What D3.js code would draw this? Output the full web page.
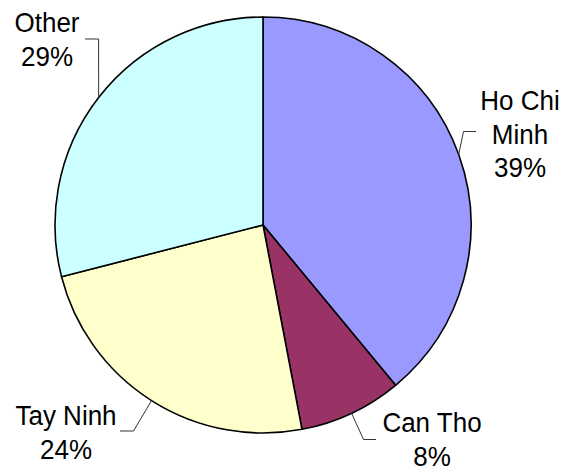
<!DOCTYPE html>
<html>
<head>
<meta charset="utf-8">
<script src="https://cdn.jsdelivr.net/npm/d3@7"></script>
<style>
  html, body { margin: 0; padding: 0; background: #ffffff; }
  svg { display: block; }
  text { font-family: "Liberation Sans", Arial, sans-serif; font-size: 26px; fill: #000; }
</style>
</head>
<body>
<svg id="chart" width="562" height="471"></svg>
<script>
// Share by province
const categories = ["Ho Chi Minh", "Can Tho", "Tay Ninh", "Other"];
const shares = [39, 8, 24, 29];
const labelLines = [["Ho Chi", "Minh"], ["Can Tho"], ["Tay Ninh"], ["Other"]];
const colors = ["#9999FF", "#993366", "#FFFFCC", "#CCFFFF"];

// Layout for the pie and its outside labels
const W = 562, H = 471;
const cx = 263, cy = 225, R = 208;
const lineGap = 33.5;
const labelLayout = [
  { x: 520, y: 110,   elbow: [463.5, 131.5], tail: 476 },
  { x: 432, y: 432,   elbow: [363.5, 439.5], tail: 376 },
  { x: 66,  y: 425,   elbow: [133.5, 431],   tail: 120 },
  { x: 47,  y: 32.3,  elbow: [98.6, 39],     tail: 85 }
];

const svg = d3.select("#chart");
const g = svg.append("g").attr("transform", `translate(${cx},${cy})`);

const pie = d3.pie().sort(null).value(d => d)(shares);
const arc = d3.arc().innerRadius(0).outerRadius(R);

g.selectAll("path.slice")
  .data(pie)
  .join("path")
  .attr("class", "slice")
  .attr("d", arc)
  .attr("fill", (d, i) => colors[i])
  .attr("stroke", "#000")
  .attr("stroke-width", 1.6)
  .attr("stroke-linejoin", "round");

// Leader lines: from slice edge at its mid angle, to an elbow, then horizontally toward the label
const leaders = svg.append("g");
pie.forEach((d, i) => {
  const mid = (d.startAngle + d.endAngle) / 2;
  const [px, py] = d3.pointRadial(mid, R);
  const L = labelLayout[i];
  const pts = [[cx + px, cy + py], L.elbow, [L.tail, L.elbow[1]]];
  leaders.append("path")
    .attr("d", d3.line()(pts))
    .attr("fill", "none")
    .attr("stroke", "#333")
    .attr("stroke-width", 1);
});

// Labels: name lines followed by the percentage
const labels = svg.append("g");
pie.forEach((d, i) => {
  const L = labelLayout[i];
  const lines = labelLines[i].concat([shares[i] + "%"]);
  lines.forEach((t, k) => {
    labels.append("text")
      .attr("text-anchor", "middle")
      .attr("transform", `translate(${L.x},${L.y + k * lineGap}) scale(1,1.06)`)
      .text(t);
  });
});
</script>
</body>
</html>
